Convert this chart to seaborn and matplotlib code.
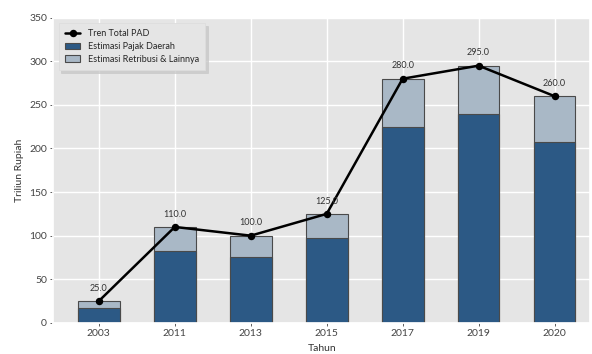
import matplotlib
matplotlib.use("Agg")
import matplotlib.pyplot as plt
import seaborn as sns
import pandas as pd

years = ["2003", "2011", "2013", "2015", "2017", "2019", "2020"]
total_pad = [25.0, 110.0, 100.0, 125.0, 280.0, 295.0, 260.0]
pajak_daerah = [17.5, 82.0, 75.5, 97.5, 224.5, 239.0, 208.0]

df = pd.DataFrame({"Tahun": years, "Total": total_pad, "Pajak": pajak_daerah})

sns.set_theme(style="darkgrid", rc={"axes.facecolor": "#e5e5e5", "grid.color": "white",
                                    "xtick.bottom": True, "ytick.left": True})
plt.rcParams["font.family"] = ["Lato", "DejaVu Sans"]

fig, ax = plt.subplots(figsize=(5.92, 3.54), dpi=100)
fig.subplots_adjust(left=0.09, right=0.997, top=0.95, bottom=0.088)

sns.barplot(data=df, x="Tahun", y="Total", color="#a9b8c6", width=0.55,
            edgecolor="#4a4a4a", linewidth=0.8, saturation=1, ax=ax,
            label="Estimasi Retribusi & Lainnya")
sns.barplot(data=df, x="Tahun", y="Pajak", color="#2c5985", width=0.55,
            edgecolor="#4a4a4a", linewidth=0.8, saturation=1, ax=ax,
            label="Estimasi Pajak Daerah")
sns.pointplot(data=df, x="Tahun", y="Total", color="black", markers="o",
              markersize=4, linewidth=1.8, ax=ax, label="Tren Total PAD")

for i, v in enumerate(total_pad):
    ax.annotate(f"{v:.1f}", (i, v), xytext=(0, 6), textcoords="offset points",
                ha="center", va="bottom", fontsize=6.5, color="#333333")

ax.set_axisbelow(True)
ax.grid(True, axis="both", color="white", linewidth=1)
ax.set_ylim(0, 350)
ax.set_xlim(-0.6, 6.47)
ax.set_yticks(range(0, 351, 50))
ax.set_xlabel("Tahun", fontsize=7.5, color="#333333")
ax.set_ylabel("Triliun Rupiah", fontsize=7.5, color="#333333")
ax.tick_params(labelsize=7.5, colors="#444444", length=2.5, width=0.6, pad=2)

handles, labels = ax.get_legend_handles_labels()
order = ["Tren Total PAD", "Estimasi Pajak Daerah", "Estimasi Retribusi & Lainnya"]
hmap = dict(zip(labels, handles))
leg = ax.legend([hmap[l] for l in order], order, loc="upper left", fontsize=6.5,
                frameon=True, fancybox=False, framealpha=1,
                shadow={"color": "#c8c8c8", "alpha": 0.8},
                borderpad=0.7, handlelength=1.7, labelspacing=0.4,
                bbox_to_anchor=(0.0, 1.0), borderaxespad=0.6)
leg.get_frame().set_edgecolor("#dddddd")
leg.get_frame().set_linewidth(0.6)

fig.savefig("out.png", dpi=100)
